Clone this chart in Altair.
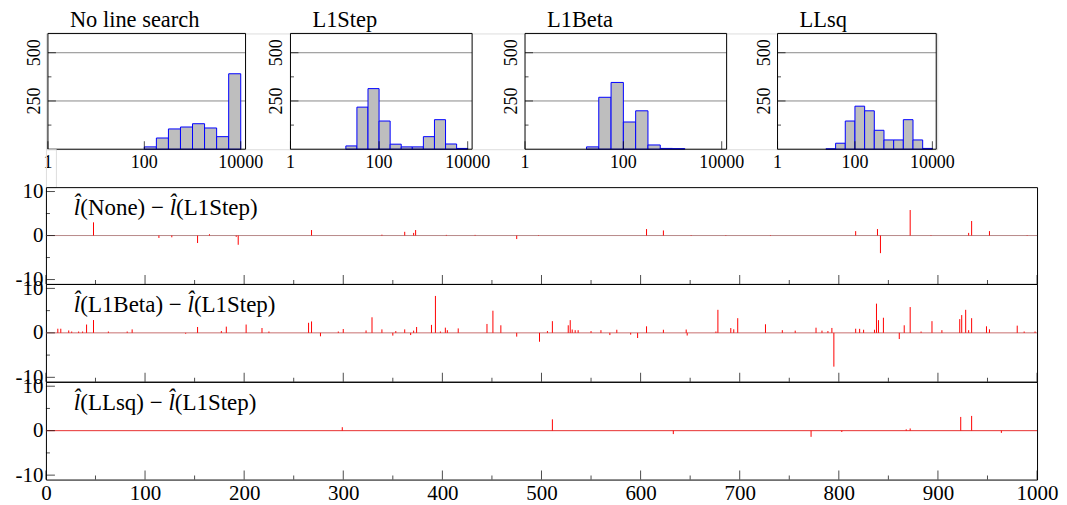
import altair as alt
import pandas as pd

# ---------------- data ----------------
hist_titles = ["No line search", "L1Step", "L1Beta", "LLsq"]
bin_lo_exp = [1.25, 1.5, 1.75, 2.0, 2.25, 2.5, 2.75, 3.0, 3.25, 3.5, 3.75]
bin_width_exp = 0.25
counts_none = [0, 0, 0, 12, 58, 105, 115, 132, 110, 65, 391]
counts_l1step = [17, 218, 314, 146, 26, 12, 12, 65, 153, 27, 4]
counts_l1beta = [12, 269, 346, 141, 199, 22, 4, 3, 0, 0, 0]
counts_llsq = [2, 31, 146, 223, 199, 98, 48, 48, 153, 48, 4]
hist_xticks = [1, 100, 10000]
hist_xtick_labels = ["1", "100", "10000"]
hist_ytick_major = [250, 500]
hist_ytick_minor = [125, 375]
hist_ytick_labels = ["250", "500"]
hist_grid = [250, 500]
HIST_XMAX = 12589
HIST_YMAX = 600

diff_methods = ["None", "L1Beta", "LLsq"]
diff_reference = "L1Step"
none_idx = [48, 114, 127, 153, 165, 192, 194, 268, 339, 362, 371, 373, 404, 433, 475, 497,
            606, 623, 651, 686, 731, 817, 839, 842, 872, 893, 931, 934, 952, 990]
none_val = [3.0, -0.55, -0.4, -1.7, 0.3, -0.3, -2.1, 1.25, 0.2, 0.85, 0.6, 1.25, 0.15, 0.15, -0.8, 0.1,
            1.47, 1.16, 0.1, 0.1, 0.1, 1.0, 1.47, -4.0, 5.8, 0.1, 0.6, 3.3, 1.0, 0.1]
l1beta_idx = [12, 15, 23, 26, 33, 37, 41, 48, 63, 82, 87, 141, 153, 177, 182, 202, 218, 225, 265, 268,
              277, 295, 300, 323, 329, 339, 350, 353, 362, 368, 371, 374, 389, 393, 398, 403, 405, 416,
              445, 451, 459, 475, 498, 506, 511, 527, 529, 531, 534, 537, 550, 560, 569, 576, 590, 597,
              606, 623, 646, 647, 676, 678, 691, 694, 698, 726, 743, 756, 777, 783, 789, 793, 795, 817,
              821, 825, 836, 838, 840, 845, 861, 866, 872, 883, 894, 904, 922, 924, 928, 931, 934, 949,
              952, 980, 987, 998]
l1beta_val = [0.93, 0.93, 0.54, 0.3, 0.3, 0.3, 1.87, 2.88, 0.3, 0.3, 0.78, -0.2, 1.32, 0.4, 1.4, 1.87,
              1.09, 0.3, 2.26, 2.57, -0.78, 0.3, 0.86, 0.54, 3.5, 0.78, -0.62, 0.4, 0.78, -0.5, 0.5, 1.32,
              1.79, 8.3, 0.3, 1.17, 0.6, 1.0, 2.0, 4.98, 1.7, -0.85, -2.0, 0.4, 2.63, 1.7, 2.86, 0.75,
              0.6, 0.6, 0.4, 0.6, -0.5, 0.7, -0.4, -1.16, 1.47, 0.7, 0.75, -0.6, 0.3, 5.18, 1.08, 0.8,
              3.3, 1.93, 0.6, 0.5, 1.16, 0.5, 0.4, 1.1, -7.6, 0.93, 0.9, 0.7, 0.7, 6.57, 2.86, 3.4,
              -1.39, 1.7, 5.8, 0.3, 2.63, 0.6, 3.09, 4.0, 5.18, 0.6, 3.3, 1.47, 0.8, 1.62, 0.3, 0.3]
llsq_idx = [299, 511, 633, 772, 803, 868, 872, 923, 934, 964]
llsq_val = [0.78, 2.55, -0.77, -1.39, -0.3, 0.3, 0.5, 3.09, 3.32, -0.5]
diff_xticks_major = list(range(0, 1001, 100))
diff_xticks_minor = list(range(50, 1000, 100))
diff_yticks_major = [-10, 0, 10]
diff_yticks_minor = [-5, 5]
DIFF_N = 1000
DIFF_YLIM = 11

# ---------------- style ----------------
FONT = "Liberation Serif"
hist_ranges = [[2, 200], [245, 427], [480, 682], [733, 892]]
DIFF_W = 993
ANNOT_SIZE = 23
# Times / Liberation Serif advance widths (per 1000 em) used to chain text pieces
TIMES_W = {"(": 333, ")": 333, " ": 250, "\u2212": 564, "N": 722, "o": 500, "n": 500, "e": 444,
           "L": 611, "1": 500, "S": 556, "t": 278, "p": 500, "B": 667, "a": 444, "s": 389,
           "q": 500, "l": 278, "\u0302": 0}


def text_width(s, size):
    return sum(TIMES_W.get(c, 500) for c in s) * size / 1000.0


def hist_panel(title, counts, rng):
    xs = alt.Scale(type="log", domain=[1, HIST_XMAX], range=rng)
    ys = alt.Scale(domain=[0, HIST_YMAX], nice=False)

    def X(f):
        return alt.X(f, type="quantitative", scale=xs, axis=None)

    def Y(f):
        return alt.Y(f, type="quantitative", scale=ys, axis=None)

    bars_df = pd.DataFrame({
        "lo": [10 ** e for e in bin_lo_exp],
        "hi": [10 ** (e + bin_width_exp) for e in bin_lo_exp],
        "count": counts,
    })
    bars_df["zero"] = 0
    bars_df = bars_df[bars_df["count"] > 0]
    frame_df = pd.DataFrame({"x": [1], "x2": [HIST_XMAX], "y": [0], "y2": [HIST_YMAX]})
    grid_df = pd.DataFrame({"y": hist_grid, "x": 1, "x2": HIST_XMAX})
    ymaj_df = pd.DataFrame({"y": hist_ytick_major, "x": 1, "t": hist_ytick_labels})
    ymin_df = pd.DataFrame({"y": hist_ytick_minor, "x": 1})
    xt_df = pd.DataFrame({"x": hist_xticks, "y": 0, "t": hist_xtick_labels})
    title_df = pd.DataFrame({"x": [1], "y": [HIST_YMAX], "t": [title]})

    grid = alt.Chart(grid_df).mark_rule(color="#8a8a8a", strokeWidth=1).encode(
        x=X("x"), x2="x2", y=Y("y"))
    bars = alt.Chart(bars_df).mark_rect(fill="#bebebe", stroke="#0000ff", strokeWidth=1).encode(
        x=X("lo"), x2="hi", y=Y("zero"), y2="count")
    frame = alt.Chart(frame_df).mark_rect(fillOpacity=0, stroke="black", strokeWidth=1).encode(
        x=X("x"), x2="x2", y=Y("y"), y2="y2")
    ymaj = alt.Chart(ymaj_df).mark_tick(orient="horizontal", size=8, thickness=1, xOffset=4,
                                        color="black").encode(x=X("x"), y=Y("y"))
    ymin = alt.Chart(ymin_df).mark_tick(orient="horizontal", size=3.5, thickness=1, xOffset=1.75,
                                        color="black").encode(x=X("x"), y=Y("y"))
    xtk = alt.Chart(xt_df).mark_tick(orient="vertical", size=8, thickness=1, yOffset=-4,
                                     color="black").encode(x=X("x"), y=Y("y"))
    xlab = alt.Chart(xt_df).mark_text(font=FONT, fontSize=18, align="center", baseline="alphabetic",
                                      dy=19, color="black").encode(x=X("x"), y=Y("y"), text="t:N")
    ylab = alt.Chart(ymaj_df).mark_text(font=FONT, fontSize=18, angle=270, align="center",
                                        baseline="alphabetic", dy=-8, color="black").encode(
        x=X("x"), y=Y("y"), text="t:N")
    ttl = alt.Chart(title_df).mark_text(font=FONT, fontSize=22.5, align="left", baseline="alphabetic",
                                        dx=22, dy=-6, color="black").encode(x=X("x"), y=Y("y"), text="t:N")
    return alt.layer(grid, bars, frame, ymaj, ymin, xtk, xlab, ylab, ttl)


panels = [hist_panel(t, c, r) for t, c, r in zip(
    hist_titles, [counts_none, counts_l1step, counts_l1beta, counts_llsq], hist_ranges)]
top_row = alt.layer(*panels).resolve_scale(x="independent").properties(width=893, height=116)

spacer = alt.Chart(pd.DataFrame({"a": [0]})).mark_point(opacity=0).encode(
    x=alt.value(0), y=alt.value(0)).properties(width=10, height=38)


def annotation_layers(method):
    hat_l = "l\u0302"
    pieces = [(hat_l, "italic"), ("(" + method + ") \u2212 ", "normal"),
              (hat_l, "italic"), ("(" + diff_reference + ")", "normal")]
    layers = []
    x0 = 28.0
    for txt, style in pieces:
        df = pd.DataFrame({"t": [txt]})
        layers.append(alt.Chart(df).mark_text(
            font=FONT, fontSize=ANNOT_SIZE, fontStyle=style, align="left", baseline="alphabetic",
            color="black").encode(x=alt.value(x0), y=alt.value(28), text="t:N"))
        x0 += text_width(txt, ANNOT_SIZE)
    return layers


def diff_panel(method, idx, val, zero_color, show_x, height):
    xs = alt.Scale(domain=[0, DIFF_N], nice=False, zero=False)
    ys = alt.Scale(domain=[-DIFF_YLIM, DIFF_YLIM], nice=False)
    yaxis = alt.Axis(values=diff_yticks_major, labelFontSize=21, labelFont=FONT, labelColor="black",
                     ticks=False, tickSize=0, domain=False, grid=False, labelPadding=3,
                     labelFlush=False, labelOverlap=False, title=None,
                     labelExpr="datum.value < 0 ? '-' + (-datum.value) : '' + datum.value")
    if show_x:
        xaxis = alt.Axis(values=diff_xticks_major, format="d", labelFontSize=21, labelFont=FONT,
                         labelColor="black", ticks=False, tickSize=0, domain=False, grid=False,
                         labelPadding=3, labelFlush=False, labelOverlap=False, title=None)
    else:
        xaxis = None

    def X(f):
        return alt.X(f, type="quantitative", scale=xs, axis=xaxis)

    def Y(f):
        return alt.Y(f, type="quantitative", scale=ys, axis=yaxis)

    spikes_df = pd.DataFrame({"i": idx, "v": val})
    spikes_df["v0"] = 0
    zero_df = pd.DataFrame({"z": [0]})
    xmaj_df = pd.DataFrame({"x": diff_xticks_major, "y": -DIFF_YLIM})
    xmin_df = pd.DataFrame({"x": diff_xticks_minor, "y": -DIFF_YLIM})
    ymaj_df = pd.DataFrame({"y": diff_yticks_major, "x": 0})
    ymin_df = pd.DataFrame({"y": diff_yticks_minor, "x": 0})

    zero = alt.Chart(zero_df).mark_rule(color=zero_color, strokeWidth=1).encode(y=Y("z"))
    spikes = alt.Chart(spikes_df).mark_rule(color="#ff0000", strokeWidth=1).encode(
        x=X("i"), y=Y("v0"), y2="v")
    xmaj = alt.Chart(xmaj_df).mark_tick(orient="vertical", size=9, thickness=1, yOffset=-4.5,
                                        color="black").encode(x=X("x"), y=Y("y"))
    xmin = alt.Chart(xmin_df).mark_tick(orient="vertical", size=4, thickness=1, yOffset=-2,
                                        color="black").encode(x=X("x"), y=Y("y"))
    ymaj = alt.Chart(ymaj_df).mark_tick(orient="horizontal", size=9, thickness=1, xOffset=4.5,
                                        color="black").encode(x=X("x"), y=Y("y"))
    ymin = alt.Chart(ymin_df).mark_tick(orient="horizontal", size=4, thickness=1, xOffset=2,
                                        color="black").encode(x=X("x"), y=Y("y"))
    return alt.layer(zero, spikes, xmaj, xmin, ymaj, ymin, *annotation_layers(method)).properties(
        width=DIFF_W, height=height, view=alt.ViewBackground(stroke="black", strokeWidth=1))


b1 = diff_panel(diff_methods[0], none_idx, none_val, "#b88a8a", False, 97)
b2 = diff_panel(diff_methods[1], l1beta_idx, l1beta_val, "#c87070", False, 98)
b3 = diff_panel(diff_methods[2], llsq_idx, llsq_val, "#e83030", True, 98)

chart = alt.vconcat(top_row, spacer, b1, b2, b3, spacing=0, bounds="flush").properties(
    padding={"left": 6, "top": 0, "right": 0, "bottom": 0}
).configure_view(strokeWidth=0).configure(background="white")

chart.save("out.html", embed_options={"renderer": "svg", "actions": False})
